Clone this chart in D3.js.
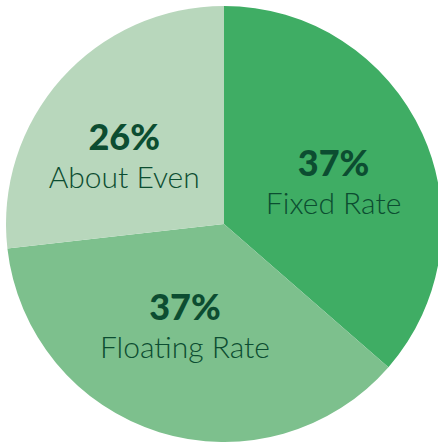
<!DOCTYPE html>
<html>
<head>
<meta charset="utf-8">
<script src="https://cdn.jsdelivr.net/npm/d3@7/dist/d3.min.js"></script>
<style>
  html, body { margin: 0; padding: 0; background: #ffffff; }
  svg { display: block; }
</style>
</head>
<body>
<svg id="chart" width="438" height="442"></svg>
<script>
// ---- data ----
const categories = ["Fixed Rate", "Floating Rate", "About Even"];
const shares = [36.4, 36.8, 26.8];          // wedge sizes
const pctLabels = ["37%", "37%", "26%"];     // printed labels

// ---- layout / style ----
const W = 438, H = 442;
const cx = 224, cy = 224, R = 218;
const colors = ["#3fad64", "#7dc08d", "#b8d7bc"];
const textColor = "#0c4d31";
// label anchor placement (layout only): radius and angular nudge in degrees
const labelRadii = [117, 110, 120];
const labelAngleNudge = [4, 3.5, -8];

const svg = d3.select("#chart");
const g = svg.append("g").attr("transform", `translate(${cx},${cy})`);

const pie = d3.pie().sort(null).value(d => d.v);
const arcs = pie(categories.map((c, i) => ({ c, v: shares[i], p: pctLabels[i] })));

const arc = d3.arc().innerRadius(0).outerRadius(R);

g.selectAll("path.slice")
  .data(arcs)
  .join("path")
  .attr("class", "slice")
  .attr("d", arc)
  .attr("fill", (d, i) => colors[i]);

const lab = g.selectAll("g.lab")
  .data(arcs)
  .join("g")
  .attr("class", "lab")
  .attr("transform", (d, i) => {
    const a = (d.startAngle + d.endAngle) / 2 + labelAngleNudge[i] * Math.PI / 180;
    const x = labelRadii[i] * Math.sin(a);
    const y = -labelRadii[i] * Math.cos(a);
    return `translate(${x},${y})`;
  });

lab.append("text")
  .attr("text-anchor", "middle")
  .attr("y", -7)
  .attr("font-family", "Lato, 'Open Sans', sans-serif")
  .attr("font-weight", 900)
  .attr("font-size", 36)
  .attr("fill", textColor)
  .text(d => d.data.p);

lab.append("text")
  .attr("text-anchor", "middle")
  .attr("y", 31)
  .attr("font-family", "Lato, 'Open Sans', sans-serif")
  .attr("font-weight", 300)
  .attr("font-size", 30)
  .attr("fill", textColor)
  .text(d => d.data.c);
</script>
</body>
</html>
